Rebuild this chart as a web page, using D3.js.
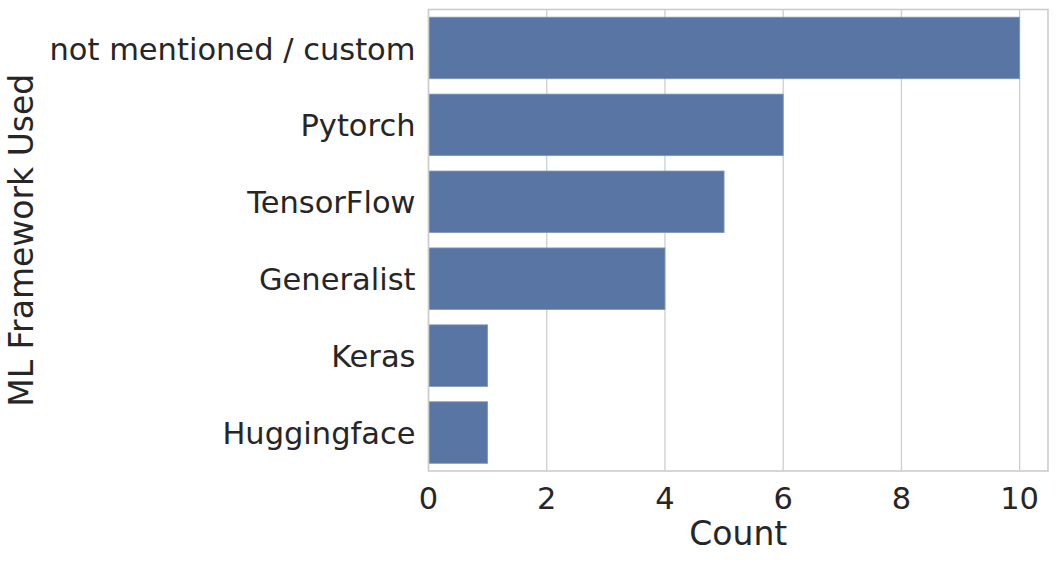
<!DOCTYPE html>
<html>
<head>
<meta charset="utf-8">
<script src="https://cdn.jsdelivr.net/npm/d3@7"></script>
<style>
  body { margin: 0; background: #fff; }
  text { font-family: "DejaVu Sans", sans-serif; fill: #262626; }
</style>
</head>
<body>
<div id="chart"></div>
<script>
const frameworks = ["not mentioned / custom", "Pytorch", "TensorFlow", "Generalist", "Keras", "Huggingface"];
const counts = [10, 6, 5, 4, 1, 1];
const xTicks = [0, 2, 4, 6, 8, 10];

const width = 1058;
const height = 562;
const margin = { top: 9.5, right: 10, bottom: 91, left: 428.5 };

const svg = d3.select("#chart")
    .append("svg")
    .attr("width", width)
    .attr("height", height);

const x = d3.scaleLinear()
    .domain([0, 10.48])
    .range([margin.left, width - margin.right]);

const y = d3.scaleBand()
    .domain(frameworks)
    .range([margin.top, height - margin.bottom])
    .paddingInner(0.2)
    .paddingOuter(0.1);

// grid lines
svg.append("g")
    .selectAll("line")
    .data(xTicks)
    .enter().append("line")
    .attr("x1", d => x(d))
    .attr("x2", d => x(d))
    .attr("y1", margin.top)
    .attr("y2", height - margin.bottom)
    .attr("stroke", "#cccccc")
    .attr("stroke-width", 1.25);

// bars
svg.append("g")
    .selectAll("rect")
    .data(frameworks)
    .enter().append("rect")
    .attr("x", x(0))
    .attr("y", d => y(d))
    .attr("width", (d, i) => x(counts[i]) - x(0))
    .attr("height", y.bandwidth())
    .attr("fill", "#5975a4")
    .attr("stroke", "#7f96bc")
    .attr("stroke-width", 0.8);

// frame
svg.append("rect")
    .attr("x", margin.left)
    .attr("y", margin.top)
    .attr("width", width - margin.right - margin.left)
    .attr("height", height - margin.bottom - margin.top)
    .attr("fill", "none")
    .attr("stroke", "#cccccc")
    .attr("stroke-width", 1.6);

// x tick labels
svg.append("g")
    .selectAll("text")
    .data(xTicks)
    .enter().append("text")
    .attr("x", d => x(d))
    .attr("y", 498)
    .attr("dy", "0.36em")
    .attr("text-anchor", "middle")
    .style("font-size", "30.5px")
    .text(d => d);

// y tick labels
svg.append("g")
    .selectAll("text")
    .data(frameworks)
    .enter().append("text")
    .attr("x", margin.left - 13)
    .attr("y", d => y(d) + y.bandwidth() / 2)
    .attr("dy", "0.38em")
    .attr("text-anchor", "end")
    .style("font-size", "30.5px")
    .text(d => d);

// axis titles
svg.append("text")
    .attr("x", (margin.left + width - margin.right) / 2)
    .attr("y", 533)
    .attr("dy", "0.36em")
    .attr("text-anchor", "middle")
    .style("font-size", "33px")
    .text("Count");

svg.append("text")
    .attr("transform", `translate(21.5, ${(margin.top + height - margin.bottom) / 2}) rotate(-90)`)
    .attr("dy", "0.36em")
    .attr("text-anchor", "middle")
    .style("font-size", "33px")
    .text("ML Framework Used");
</script>
</body>
</html>
